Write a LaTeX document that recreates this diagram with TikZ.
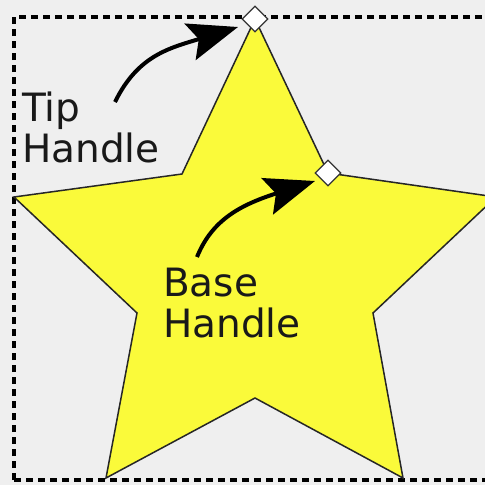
\documentclass[tikz,border=0pt]{standalone}
\usepackage{fontspec}
\setmainfont{DejaVu Sans}
\usetikzlibrary{arrows.meta,shapes.geometric}
\definecolor{bg}{RGB}{239,239,239}
\definecolor{staryellow}{RGB}{250,250,58}
\definecolor{txt}{RGB}{25,25,25}
\tikzset{
  handle/.style={diamond,draw=black!80,fill=white,line width=1.3pt,minimum width=26pt,minimum height=26pt,inner sep=0pt},
  label/.style={align=left,inner sep=0pt,anchor=base west,text=txt,font=\fontsize{39}{41}\selectfont},
  pointer/.style={line width=4pt,-{Stealth[length=50pt,width=38pt,inset=9pt]}}
}
\begin{document}
\begin{tikzpicture}[x=1pt,y=-1pt]
\fill[bg] (0,0) rectangle (485,485);
\useasboundingbox (0,0) rectangle (485,485);
\begin{scope}
\clip (0,0) rectangle (485,485);
\draw[black,line width=3.2pt,dash pattern=on 7pt off 5pt] (14,480) -- (14,17) -- (500,17);
\draw[black,line width=3.2pt,dash pattern=on 7pt off 5pt] (14,480) -- (500,480);
\filldraw[fill=staryellow,draw=black!85,line width=1.5pt,line join=miter]
  (255,19) -- (328,173) -- (496,197) -- (373,313) -- (403,478) -- (255,398)
  -- (106,478) -- (137,313) -- (14,197) -- (182,174) -- cycle;
\end{scope}
\node[handle] (tipH) at (255,19) {};
\node[handle] (baseH) at (328,173) {};
\node[label] (tiptxt) at (22,162) {Tip\\Handle};
\node[label] (basetxt) at (163,337) {Base\\Handle};
\coordinate (tipS) at (115,102);
\coordinate (baseS) at (197,257);
\draw[pointer] (tipS) .. controls (138,55) and (170,48) .. ([xshift=-17pt,yshift=-8pt]tipH.center);
\draw[pointer] (baseS) .. controls (212,220) and (240,205) .. ([xshift=-13pt,yshift=-8pt]baseH.center);
\end{tikzpicture}
\end{document}
